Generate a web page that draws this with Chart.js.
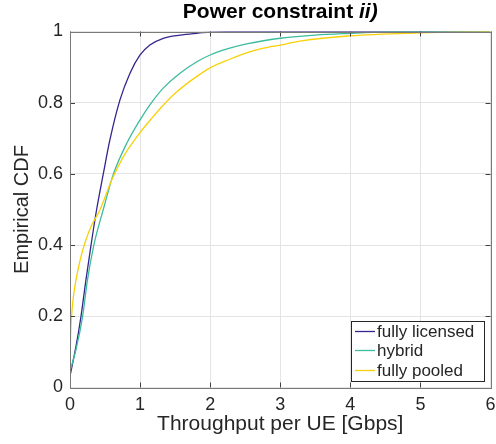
<!DOCTYPE html>
<html><head><meta charset="utf-8">
<script src="https://cdn.jsdelivr.net/npm/chart.js@4/dist/chart.umd.min.js"></script>
<style>html,body{margin:0;padding:0;background:#fff}#wrap{width:496px;height:444px}</style>
</head><body><div id="wrap"><canvas id="c" width="496" height="444"></canvas></div>
<script>
const seriesNames = ['fully licensed', 'hybrid', 'fully pooled'];
const seriesColors = ['#34268c', '#3cbc9e', '#f9d10a'];

const licensedX = [0, 0.086, 0.157, 0.228, 0.3, 0.38, 0.475, 0.57, 0.713, 0.856, 1.0, 1.14, 1.33, 1.57, 1.81, 2.0, 2.5, 6];
const licensedY = [0.032, 0.116, 0.2, 0.303, 0.4, 0.5, 0.6, 0.696, 0.808, 0.883, 0.934, 0.962, 0.981, 0.99, 0.995, 0.998, 1, 1];

const hybridX = [0, 0.086, 0.18, 0.25, 0.34, 0.475, 0.62, 0.81, 1.0, 1.14, 1.33, 1.57, 1.81, 2.0, 2.28, 2.52, 2.76, 3.0, 3.5, 4.0, 4.5, 5, 6];
const hybridY = [0.046, 0.107, 0.2, 0.303, 0.4, 0.5, 0.6, 0.686, 0.752, 0.794, 0.841, 0.883, 0.915, 0.934, 0.953, 0.965, 0.974, 0.981, 0.99, 0.995, 0.999, 1, 1];

const pooledX = [0, 0.003, 0.008, 0.016, 0.038, 0.086, 0.157, 0.228, 0.3, 0.43, 0.595, 0.76, 1.0, 1.165, 1.33, 1.52, 1.81, 2.0, 2.28, 2.52, 2.76, 3.0, 3.28, 4.0, 5.0, 6];
const pooledY = [0, 0.08, 0.14, 0.18, 0.237, 0.303, 0.368, 0.415, 0.452, 0.5, 0.583, 0.648, 0.716, 0.756, 0.793, 0.83, 0.874, 0.898, 0.922, 0.94, 0.953, 0.962, 0.973, 0.988, 0.996, 1];

const xTicks = [0, 1, 2, 3, 4, 5, 6];
const yTicks = [0, 0.2, 0.4, 0.6, 0.8, 1];
const yTickLabels = ['0', '0.2', '0.4', '0.6', '0.8', '1'];

const titleMain = 'Power constraint ';
const titleItalic = 'ii)';
const xTitle = 'Throughput per UE [Gbps]';
const yTitle = 'Empirical CDF';

const FONT = "'Liberation Sans', Arial, Helvetica, sans-serif";
const TXT = '#262626';

function pts(xs, ys) { return xs.map((x, i) => ({x: x, y: ys[i]})); }

const boxPlugin = {
  id: 'boxPlugin',
  afterDraw(chart) {
    const ctx = chart.ctx, a = chart.chartArea;
    const xs = chart.scales.x, ys = chart.scales.y;
    ctx.save();
    ctx.strokeStyle = '#404040';
    ctx.lineWidth = 1;
    const L = 5;
    ctx.beginPath();
    xTicks.forEach(v => {
      const px = Math.round(xs.getPixelForValue(v)) + 0.5;
      ctx.moveTo(px, a.bottom); ctx.lineTo(px, a.bottom - L);
      ctx.moveTo(px, a.top); ctx.lineTo(px, a.top + L);
    });
    yTicks.forEach(v => {
      const py = Math.round(ys.getPixelForValue(v)) + 0.5;
      ctx.moveTo(a.left, py); ctx.lineTo(a.left + L, py);
      ctx.moveTo(a.right, py); ctx.lineTo(a.right - L, py);
    });
    ctx.stroke();
    ctx.strokeStyle = '#7a7a7a';
    ctx.strokeRect(Math.round(a.left) + 0.5, Math.round(a.top) + 0.5, Math.round(a.right - a.left), Math.round(a.bottom - a.top));
    // title
    ctx.fillStyle = '#000';
    ctx.textBaseline = 'alphabetic';
    ctx.textAlign = 'left';
    ctx.font = 'bold 21px ' + FONT;
    const w1 = ctx.measureText(titleMain).width;
    ctx.font = 'italic bold 21px ' + FONT;
    const w2 = ctx.measureText(titleItalic).width;
    const cx = (a.left + a.right) / 2;
    let x0 = cx - (w1 + w2) / 2;
    ctx.font = 'bold 21px ' + FONT;
    ctx.fillText(titleMain, x0, 18);
    ctx.font = 'italic bold 21px ' + FONT;
    ctx.fillText(titleItalic, x0 + w1, 18);
    // legend
    const lx = 351.5, ly = 321.5, lw = 133, lh = 60;
    ctx.fillStyle = '#fff';
    ctx.fillRect(lx, ly, lw, lh);
    ctx.strokeStyle = '#262626';
    ctx.strokeRect(lx, ly, lw, lh);
    const rows = [331.5, 350.5, 370.5];
    ctx.font = '17px ' + FONT;
    ctx.textBaseline = 'middle';
    chart.data.datasets.forEach((ds, i) => {
      ctx.strokeStyle = ds.borderColor;
      ctx.lineWidth = 1.3;
      ctx.beginPath();
      ctx.moveTo(355, rows[i]); ctx.lineTo(375, rows[i]);
      ctx.stroke();
      ctx.fillStyle = TXT;
      ctx.fillText(ds.label, 377, rows[i] + 1);
    });
    ctx.restore();
  }
};

new Chart(document.getElementById('c'), {
  type: 'scatter',
  data: {
    datasets: [
      {label: seriesNames[0], data: pts(licensedX, licensedY), borderColor: seriesColors[0], order: 3},
      {label: seriesNames[1], data: pts(hybridX, hybridY), borderColor: seriesColors[1], order: 2},
      {label: seriesNames[2], data: pts(pooledX, pooledY), borderColor: seriesColors[2], order: 1}
    ].map(d => Object.assign(d, {showLine: true, pointRadius: 0, borderWidth: 1.3, fill: false, tension: 0.4, cubicInterpolationMode: 'monotone', backgroundColor: d.borderColor}))
  },
  options: {
    responsive: false,
    animation: false,
    devicePixelRatio: 1,
    layout: {padding: {top: 31.5, right: 5.5, left: 0, bottom: 0}},
    plugins: {legend: {display: false}, tooltip: {enabled: false}, title: {display: false}},
    scales: {
      x: {
        type: 'linear', min: 0, max: 6,
        afterBuildTicks: s => { s.ticks = xTicks.map(v => ({value: v})); },
        afterFit: s => { s.height = 56.5; s.paddingLeft = 0; s.paddingRight = 0; },
        ticks: {font: {family: FONT, size: 18}, color: TXT, padding: 7, maxRotation: 0, callback: v => String(v)},
        grid: {color: '#e4e4e4', drawTicks: false},
        border: {display: false},
        title: {display: true, text: xTitle, font: {family: FONT, size: 21}, color: TXT, padding: {top: 0, bottom: 7}}
      },
      y: {
        type: 'linear', min: 0, max: 1,
        afterBuildTicks: s => { s.ticks = yTicks.map(v => ({value: v})); },
        afterFit: s => { s.width = 70; s.paddingTop = 0; s.paddingBottom = 0; },
        ticks: {font: {family: FONT, size: 18}, color: TXT, padding: 7, callback: (v) => yTickLabels[yTicks.indexOf(v)] ?? String(v)},
        grid: {color: '#e4e4e4', drawTicks: false},
        border: {display: false},
        title: {display: true, text: yTitle, font: {family: FONT, size: 20}, color: TXT, padding: {top: 10, bottom: 0}}
      }
    }
  },
  plugins: [boxPlugin]
});
</script>
</body></html>
